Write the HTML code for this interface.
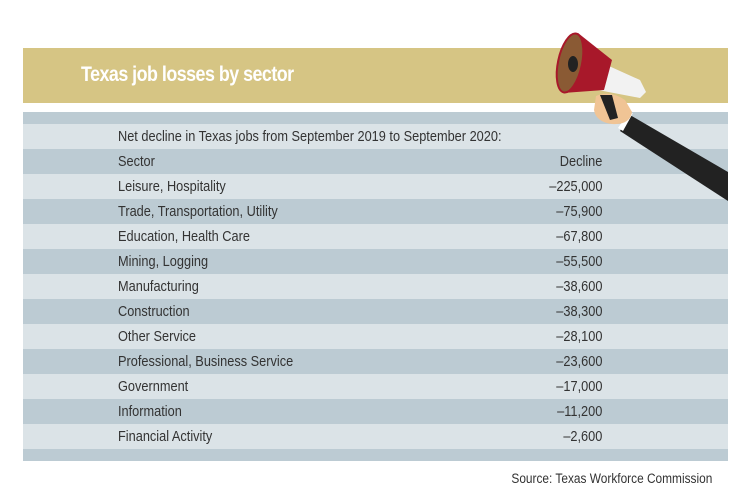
<!DOCTYPE html>
<html><head><style>
body{margin:0;width:750px;height:500px;background:#fff;position:relative;overflow:hidden;font-family:"Liberation Sans",sans-serif;}
.hdr{position:absolute;left:23px;top:48px;width:705px;height:55px;background:#d6c584;}
.hdr span{position:absolute;left:58px;top:15px;color:#fff;font-size:21px;font-weight:bold;letter-spacing:-0.6px;transform:scaleX(0.85);transform-origin:left;}
.tbl{position:absolute;left:23px;top:112px;width:705px;}
.r{height:25px;position:relative;font-size:14.5px;color:#333;}
.d{background:#bccbd3}.l{background:#dbe3e7}
.r .a{position:absolute;left:95px;top:5px;transform:scaleX(0.88);transform-origin:left;white-space:nowrap}
.r .b{position:absolute;right:126px;top:5px;transform:scaleX(0.88);transform-origin:right;}
.src{position:absolute;right:38px;top:471px;font-size:13.5px;color:#333;transform:scaleX(0.88);transform-origin:right;}
svg{position:absolute;left:0;top:0}
</style></head><body>
<div class="hdr"><span>Texas job losses by sector</span></div>
<div class="tbl">
<div class="d" style="height:12px"></div>
<div class="r l"><span class="a">Net decline in Texas jobs from September 2019 to September 2020:</span></div>
<div class="r d"><span class="a">Sector</span><span class="b">Decline</span></div>
<div class="r l"><span class="a">Leisure, Hospitality</span><span class="b">–225,000</span></div>
<div class="r d"><span class="a">Trade, Transportation, Utility</span><span class="b">–75,900</span></div>
<div class="r l"><span class="a">Education, Health Care</span><span class="b">–67,800</span></div>
<div class="r d"><span class="a">Mining, Logging</span><span class="b">–55,500</span></div>
<div class="r l"><span class="a">Manufacturing</span><span class="b">–38,600</span></div>
<div class="r d"><span class="a">Construction</span><span class="b">–38,300</span></div>
<div class="r l"><span class="a">Other Service</span><span class="b">–28,100</span></div>
<div class="r d"><span class="a">Professional, Business Service</span><span class="b">–23,600</span></div>
<div class="r l"><span class="a">Government</span><span class="b">–17,000</span></div>
<div class="r d"><span class="a">Information</span><span class="b">–11,200</span></div>
<div class="r l"><span class="a">Financial Activity</span><span class="b">–2,600</span></div>
<div class="d" style="height:12px"></div>
</div>
<div class="src">Source: Texas Workforce Commission</div>
<svg width="750" height="500">
<polygon points="630,115 728,172 728,201 620,131" fill="#222"/>
<polygon points="626,116 633,113 623,131 618,128" fill="#fff"/>
<path d="M596,96 Q610,90 625,100 L632,112 Q630,125 612,124 Q596,122 594,110 Z" fill="#f0c495"/>
<polygon points="600,95 612,95 618,118 610,120" fill="#222"/>
<polygon points="600,62 640,80 646,92 640,98 598,90" fill="#f2f2f2"/>
<polygon points="578,33 612,60 604,90 563,93" fill="#a8182a"/>
<ellipse cx="570" cy="63" rx="12" ry="30" transform="rotate(12 570 63)" fill="#8a5a34" stroke="#a8182a" stroke-width="2"/>
<ellipse cx="573" cy="64" rx="5" ry="8" fill="#222"/>
</svg>
</body></html>
